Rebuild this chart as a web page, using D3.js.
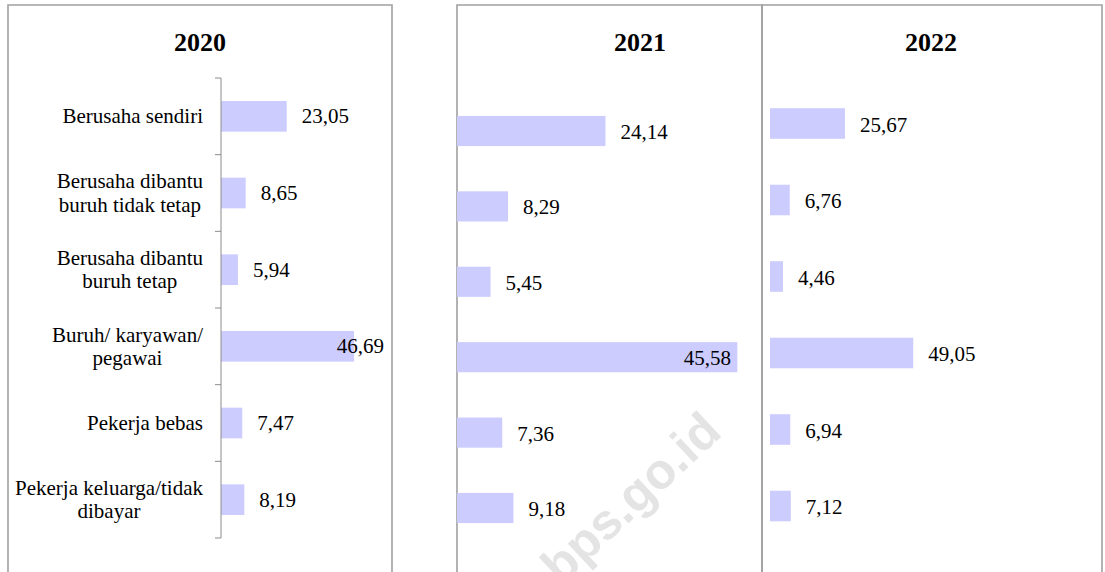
<!DOCTYPE html>
<html>
<head>
<meta charset="utf-8">
<script src="https://cdn.jsdelivr.net/npm/d3@7"></script>
<style>
  body { margin: 0; background: #fff; }
  svg { display: block; }
  text { font-family: "Liberation Serif", "Times New Roman", serif; fill: #000; }
</style>
</head>
<body>
<svg id="chart" width="1105" height="572"></svg>
<script>
// data
const categories = [
    ["Berusaha sendiri"],
    ["Berusaha dibantu", "buruh tidak tetap"],
    ["Berusaha dibantu", "buruh tetap"],
    ["Buruh/ karyawan/", "pegawai"],
    ["Pekerja bebas"],
    ["Pekerja keluarga/tidak", "dibayar"]
];
const years = ["2020", "2021", "2022"];
const values2020 = [23.05, 8.65, 5.94, 46.69, 7.47, 8.19];
const values2021 = [24.14, 8.29, 5.45, 45.58, 7.36, 9.18];
const values2022 = [25.67, 6.76, 4.46, 49.05, 6.94, 7.12];

const fmt = v => v.toFixed(2).replace('.', ',');

let svg = d3.select('#chart');

// panel layout
let panels = [
    { year: years[0], values: values2020, box: [8, 392], titleX: 200, x: [221, 363.5], y: [78, 538], labelMax: 384, dy: 7, axis: true },
    { year: years[1], values: values2021, box: [457, 762], titleX: 640, x: [457, 764.5], y: [93.3, 545.7], labelMax: 731, dy: 8, axis: false },
    { year: years[2], values: values2022, box: [762, 1102], titleX: 931, x: [770, 916], y: [85.25, 544.25], labelMax: 1090, dy: 8, axis: false }
];

// watermark
svg.append('text')
    .attr('transform', 'translate(561,586) rotate(-43)')
    .style('font-family', 'Arial, "Liberation Sans", sans-serif')
    .style('font-weight', 'bold')
    .style('font-size', '50px')
    .style('fill', '#e4e4e4')
    .text('bps.go.id');

panels.forEach(p => {
    let g = svg.append('g');

    // frame
    g.append('path')
        .attr('d', `M${p.box[0]},580 V5 H${p.box[1]} V580`)
        .attr('fill', 'none')
        .attr('stroke', '#a0a0a0')
        .attr('stroke-width', 1.6);

    g.append('text')
        .attr('x', p.titleX)
        .attr('y', 51)
        .attr('text-anchor', 'middle')
        .style('font-weight', 'bold')
        .style('font-size', '26px')
        .text(p.year);

    let x = d3.scaleLinear().domain([0, 50]).range(p.x);
    let y = d3.scaleBand()
        .domain(d3.range(categories.length))
        .range(p.y)
        .paddingInner(0.6)
        .paddingOuter(0.3);

    g.selectAll('rect.bar')
        .data(p.values)
        .enter()
        .append('rect')
        .attr('class', 'bar')
        .attr('x', x(0))
        .attr('y', (d, i) => y(i))
        .attr('width', d => x(d) - x(0))
        .attr('height', y.bandwidth())
        .attr('fill', '#ccccff');

    g.selectAll('text.val')
        .data(p.values)
        .enter()
        .append('text')
        .attr('class', 'val')
        .style('font-size', '21px')
        .attr('y', (d, i) => y(i) + y.bandwidth() / 2 + p.dy)
        .text(d => fmt(d))
        .attr('x', function (d) {
            let w = this.getComputedTextLength();
            return Math.min(x(d) + 15, p.labelMax - w);
        });

    if (p.axis) {
        let yAxis = d3.scaleBand().domain(d3.range(categories.length)).range(p.y);
        let ax = g.append('g')
            .attr('transform', `translate(${x(0)},0)`)
            .call(d3.axisLeft(yAxis).tickSize(0).tickFormat(''));
        ax.select('.domain').attr('stroke', '#8c8c8c').attr('d', `M-6,${p.y[0]}H0V${p.y[1]}H-6`);
        g.selectAll('line.tick')
            .data(d3.range(1, categories.length))
            .enter()
            .append('line')
            .attr('class', 'tick')
            .attr('x1', x(0) - 6)
            .attr('x2', x(0))
            .attr('y1', i => yAxis(i))
            .attr('y2', i => yAxis(i))
            .attr('stroke', '#8c8c8c');

        // category labels, right aligned block with centered lines
        categories.forEach((lines, i) => {
            let cy = yAxis(i) + yAxis.bandwidth() / 2;
            let t = g.append('text').style('font-size', '21px').attr('text-anchor', 'middle');
            let spans = lines.map((l, k) => t.append('tspan')
                .attr('y', cy + p.dy + (k - (lines.length - 1) / 2) * 23.5)
                .text(l));
            let maxW = d3.max(spans, s => s.node().getComputedTextLength());
            spans.forEach(s => s.attr('x', 203 - maxW / 2));
        });
    }
});
</script>
</body>
</html>
